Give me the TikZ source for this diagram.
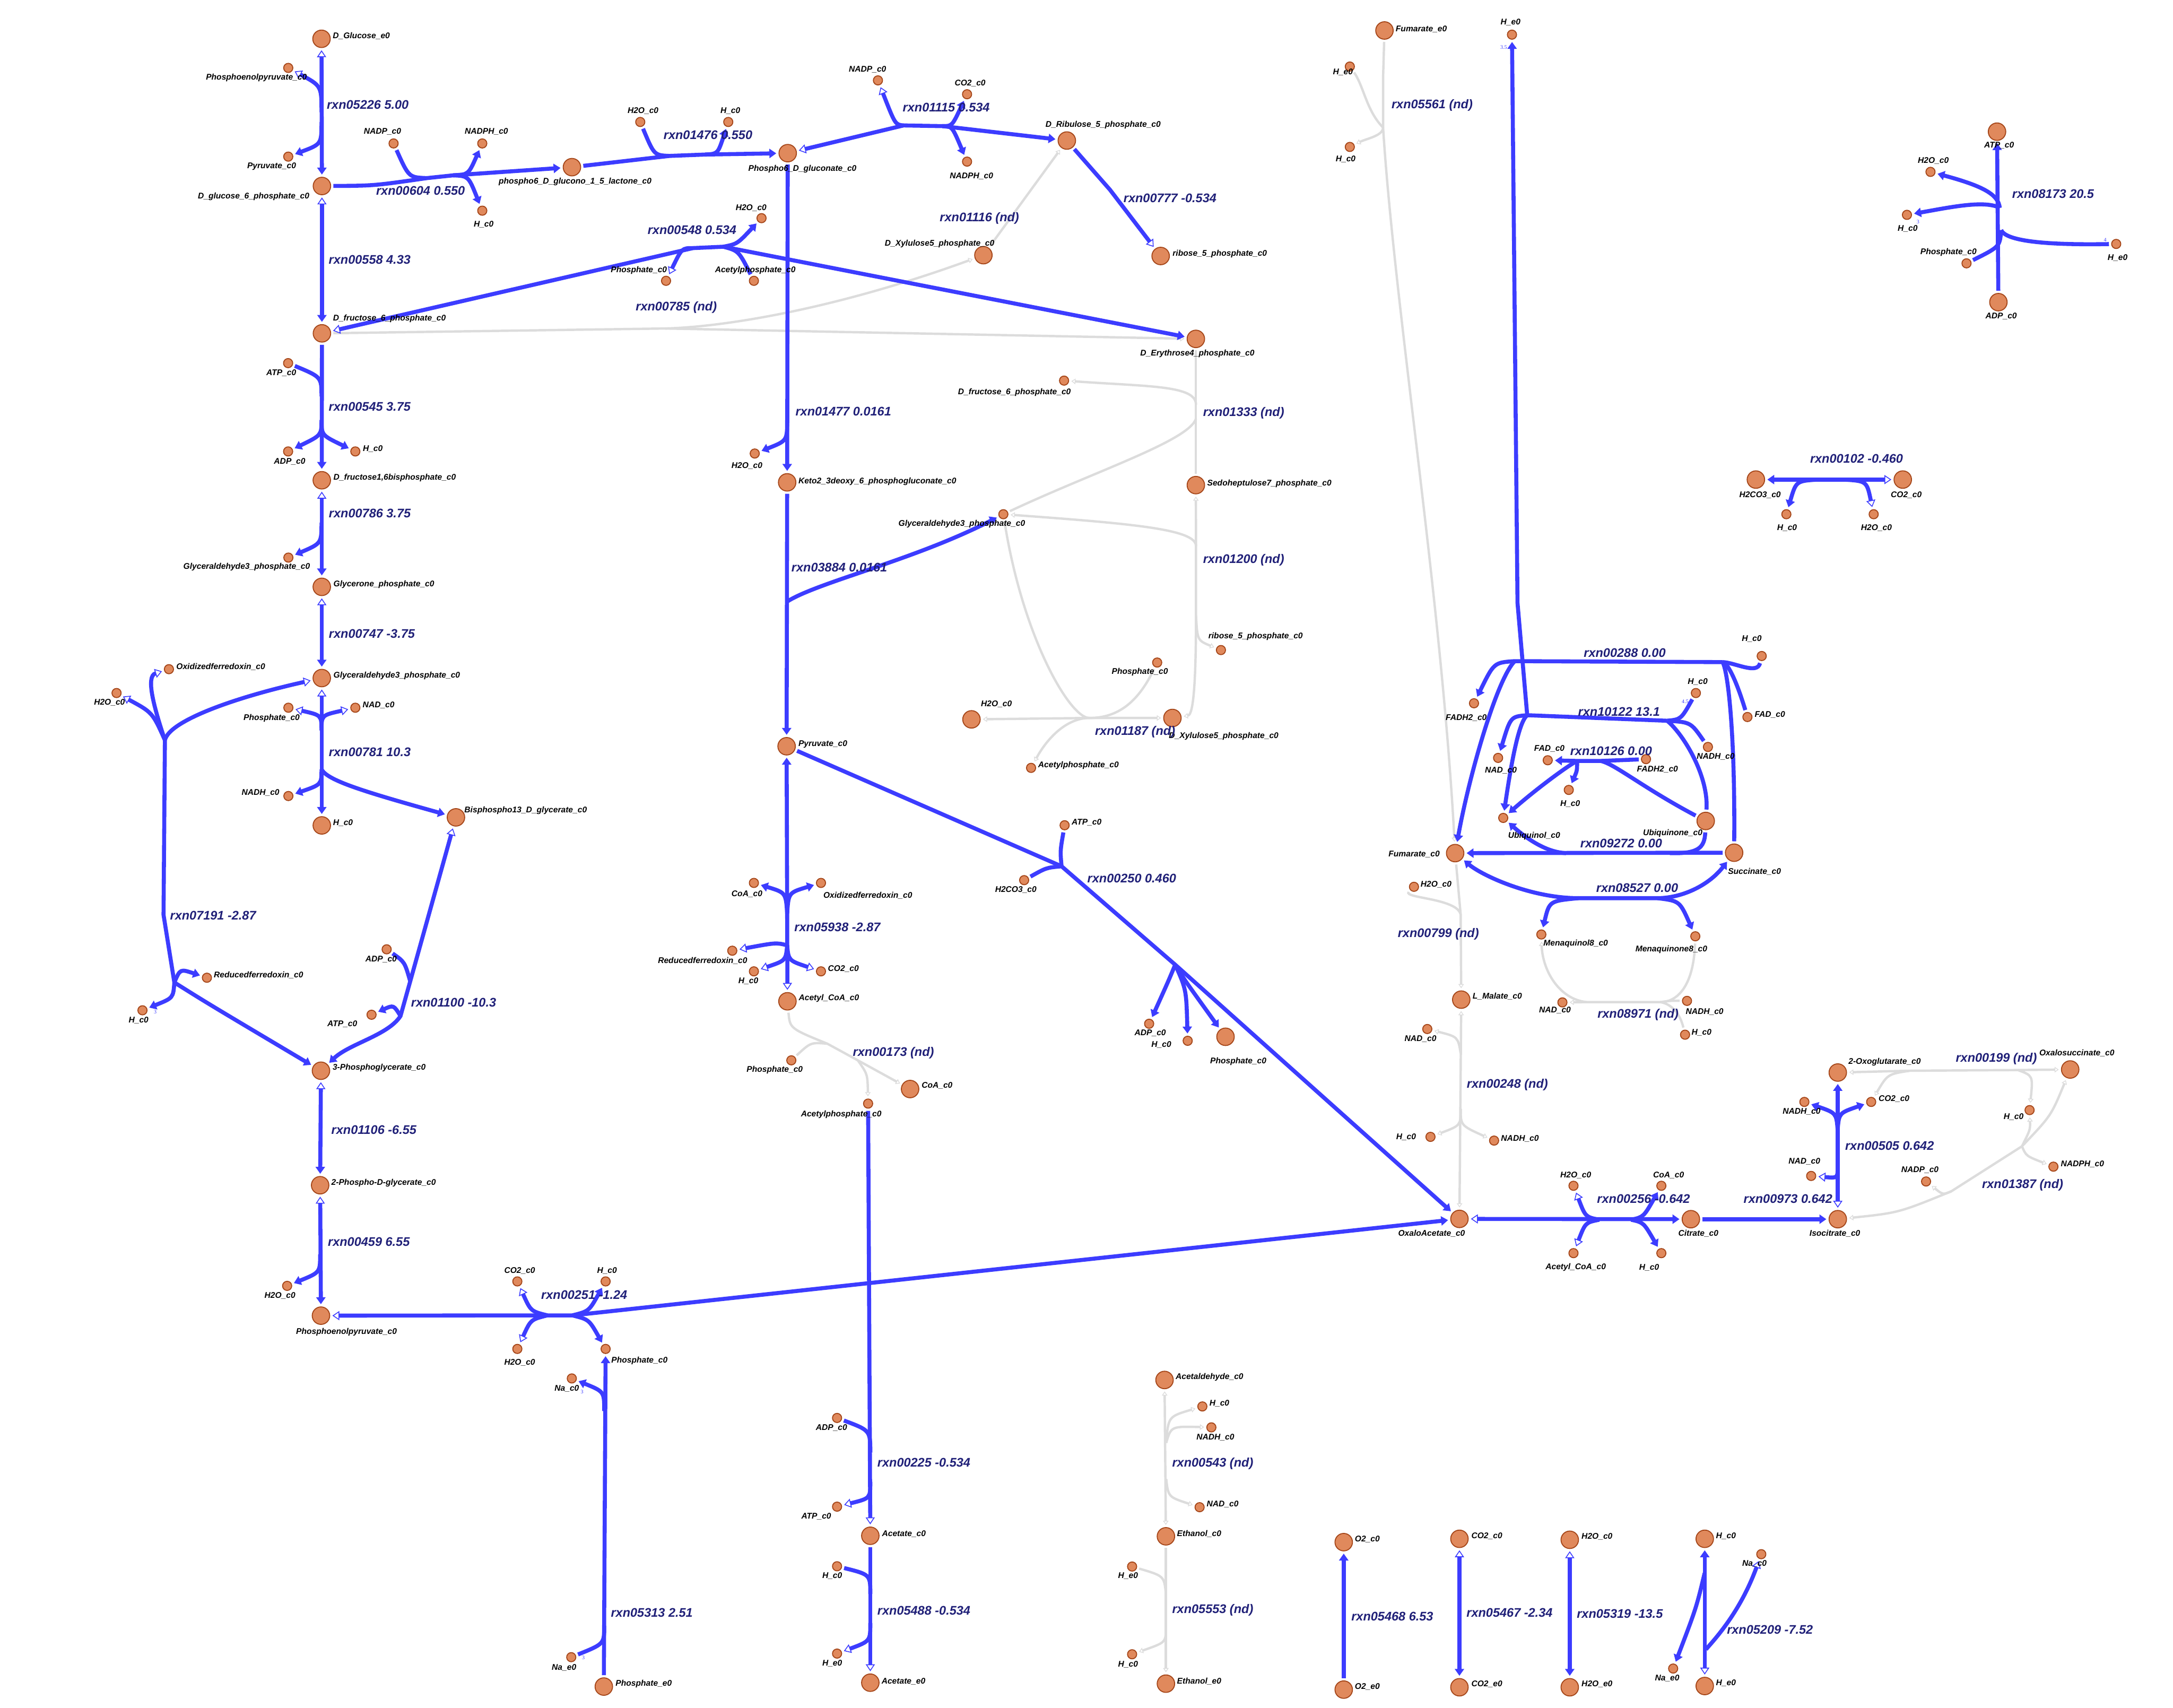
\documentclass[tikz,border=0pt]{standalone}
\usepackage{fontspec}
\setmainfont{Liberation Sans}
\newfontfamily\numfont{Liberation Serif}
\usetikzlibrary{arrows.meta}

\definecolor{fluxblue}{RGB}{60,60,255}
\definecolor{ndgray}{RGB}{220,220,220}
\definecolor{metfill}{RGB}{224,137,92}
\definecolor{metdraw}{RGB}{165,70,25}
\definecolor{rxncol}{RGB}{32,32,120}

\tikzset{
  ftip/.tip={Triangle[width=3.3mm,length=2.5mm]},
  otip/.tip={Triangle[fill=white,line width=0.3mm,width=3.3mm,length=2.5mm]},
  gtip/.tip={Triangle[fill=white,line width=0.25mm,width=2mm,length=1.5mm]},
  flux/.style={draw=fluxblue,line width=1.45mm,shorten <=0.8mm},
  nd/.style={draw=ndgray,line width=0.85mm,shorten <=0.8mm},
  mainln/.style={shorten >=0.8mm},
  bigm/.style={circle,draw=metdraw,fill=metfill,line width=0.35mm,minimum size=6.3mm,inner sep=0pt},
  smallm/.style={bigm,minimum size=3.3mm},
  mlbl/.style={font=\fontsize{8.5}{9}\selectfont\bfseries\itshape,inner sep=0pt},
  rlbl/.style={font=\fontsize{12.8}{13}\selectfont\bfseries\itshape,text=rxncol,inner sep=0pt,anchor=west},
  stoich/.style={font=\numfont\fontsize{5.5}{6}\selectfont,text=fluxblue,inner sep=0pt}
}

% metaboliti: nome/stile/x/y/xetichetta/yetichetta/ancora/testo
\def\metlist{glce/bigm/232/28/240/26/west/D\_Glucose\_e0,
pep1/smallm/208/49/185/56/center/Phosphoenolpyruvate\_c0,
pyr1/smallm/208/113/196/120/center/Pyruvate\_c0,
g6p/bigm/232.3/134.2/183/142/center/D\_glucose\_6\_phosphate\_c0,
nadp1/smallm/284/103.5/276/95/center/NADP\_c0,
nadph1/smallm/348/103.5/351/95/center/NADPH\_c0,
h1/smallm/348/152/349/162/center/H\_c0,
lac/bigm/412.7/120.6/415/131/center/phospho6\_D\_glucono\_1\_5\_lactone\_c0,
h2o1/smallm/462/88/464/80/center/H2O\_c0,
h2/smallm/525.5/88/527/80/center/H\_c0,
pgc/bigm/568.4/110.5/579/122/center/Phospho6\_D\_gluconate\_c0,
nadp2/smallm/633.5/58/626/50/center/NADP\_c0,
co2a/smallm/697.8/68/700/60/center/CO2\_c0,
nadph2/smallm/697.8/116.6/701/127/center/NADPH\_c0,
ru5p/bigm/769.8/101.4/796/90/center/D\_Ribulose\_5\_phosphate\_c0,
r5p/bigm/837.5/184.7/846/183/west/ribose\_5\_phosphate\_c0,
x5p1/bigm/709.6/184.1/678/176/center/D\_Xylulose5\_phosphate\_c0,
h2o2/smallm/549.5/157.4/542/150/center/H2O\_c0,
pi1/smallm/480.6/202.6/461/195/center/Phosphate\_c0,
acp1/smallm/544/202.6/545/195/center/Acetylphosphate\_c0,
f6p/bigm/232.3/240.5/281/230/center/D\_fructose\_6\_phosphate\_c0,
e4p/bigm/862.9/244.5/864/255/center/D\_Erythrose4\_phosphate\_c0,
atp1/smallm/207.9/262/203/269/center/ATP\_c0,
adp1/smallm/207.9/325.7/209/333/center/ADP\_c0,
h3/smallm/256.4/325.7/269/324/center/H\_c0,
fbp/bigm/232.2/346.5/240.5/344.7/west/{D\_fructose1,6bisphosphate\_c0},
gap1/smallm/208.1/402.3/178/409/center/Glyceraldehyde3\_phosphate\_c0,
dhap/bigm/232.2/423.4/240.5/421.6/west/Glycerone\_phosphate\_c0,
gap/bigm/232.2/489.2/240.5/487.4/west/Glyceraldehyde3\_phosphate\_c0,
pi2/smallm/208.1/510.6/196/518/center/Phosphate\_c0,
nad1/smallm/256.4/510.6/261.6/508.7/west/NAD\_c0,
nadh1/smallm/208.1/574.3/188/572/center/NADH\_c0,
h4/bigm/232.2/595.5/240.2/593.6/west/H\_c0,
bpg/bigm/329/589.7/335/584.9/west/Bisphospho13\_D\_glycerate\_c0,
oxfd1/smallm/121.9/482.8/127.1/481.2/west/Oxidizedferredoxin\_c0,
h2o3/smallm/84.1/500/79/507/center/H2O\_c0,
h5/smallm/102.8/728.9/100/736/center/H\_c0,
rdfd1/smallm/149.3/705.4/154.2/703.7/west/Reducedferredoxin\_c0,
adp2/smallm/279/684.9/275/692/center/ADP\_c0,
atp2/smallm/268.1/732.1/247/739/center/ATP\_c0,
pg3/bigm/231.6/772.5/239.9/770.4/west/3-Phosphoglycerate\_c0,
pg2/bigm/231/855.1/239/853.6/west/2-Phospho-D-glycerate\_c0,
h2o4/smallm/207.2/927.7/202/935/center/H2O\_c0,
pep/bigm/231.6/949.2/250/961/center/Phosphoenolpyruvate\_c0,
co2b/smallm/373.3/924.5/375/917/center/CO2\_c0,
h6/smallm/437/924.5/438/917/center/H\_c0,
h2o5/smallm/373.3/973.2/375/983/center/H2O\_c0,
pi3/smallm/437/973.2/441/981.7/west/Phosphate\_c0,
na1/smallm/412.6/994.5/409/1002/center/Na\_c0,
nae1/smallm/412.2/1195.6/407/1203/center/Na\_e0,
pie/bigm/435.7/1216.8/444.1/1214.9/west/Phosphate\_e0,
h2o6/smallm/544.6/327.2/539/336/center/H2O\_c0,
kdpg/bigm/568/348/576/347.5/west/Keto2\_3deoxy\_6\_phosphogluconate\_c0,
gap2/smallm/724/371/694/378/center/Glyceraldehyde3\_phosphate\_c0,
pyr/bigm/567.6/538.4/576/536.8/west/Pyruvate\_c0,
coa1/smallm/544/637/539/645/center/CoA\_c0,
oxfd2/smallm/592.4/637/594/646.2/west/Oxidizedferredoxin\_c0,
rdfd2/smallm/528.4/685.9/507/693/center/Reducedferredoxin\_c0,
h7/smallm/544/700.8/540/708/center/H\_c0,
co2c/smallm/592.4/700.8/597.3/699/west/CO2\_c0,
accoa/bigm/568.2/722.4/576.2/720.3/west/Acetyl\_CoA\_c0,
pi4/smallm/571/765/559/772/center/Phosphate\_c0,
coa2/bigm/656.7/785.7/664.9/783.4/west/CoA\_c0,
acp2/smallm/626.4/796.2/607/804/center/Acetylphosphate\_c0,
adp3/smallm/604/1023/600/1030/center/ADP\_c0,
atp3/smallm/604/1087/589/1094/center/ATP\_c0,
ac/bigm/628/1108/636.3/1106.6/west/Acetate\_c0,
h8/smallm/604/1130/600.5/1137/center/H\_c0,
he1/smallm/604/1193/600.5/1200/center/H\_e0,
ace/bigm/628/1214/636/1213/west/Acetate\_e0,
atp4/smallm/768.2/595.4/773.2/593.5/west/ATP\_c0,
h2co3a/smallm/739/635/733/642/center/H2CO3\_c0,
adp4/smallm/829.2/738.6/830/745.3/center/ADP\_c0,
h9/smallm/857/750.9/838/753.8/center/H\_c0,
pi5/bigm/884.3/748/893.5/765.9/center/Phosphate\_c0,
f6p2/smallm/767.8/274.6/732/283/center/D\_fructose\_6\_phosphate\_c0,
s7p/bigm/862.9/350/871/349/west/Sedoheptulose7\_phosphate\_c0,
r5p2/smallm/881/469/906/459/center/ribose\_5\_phosphate\_c0,
pi6/smallm/835/478/822.5/485/center/Phosphate\_c0,
h2o7/bigm/701/519/719/508/center/H2O\_c0,
x5p2/bigm/846/518/883/531/center/D\_Xylulose5\_phosphate\_c0,
acp3/smallm/744/554/749/552/west/Acetylphosphate\_c0,
fume/bigm/999/22/1007/21/west/Fumarate\_e0,
he2/smallm/974/48/969/52/center/H\_e0,
h10/smallm/974/106/971/115/center/H\_c0,
he3/smallm/1091/25/1090/16/center/H\_e0,
atp5/bigm/1441/95/1442.5/105/center/ATP\_c0,
h2o8/smallm/1393/124/1395/116/center/H2O\_c0,
h11/smallm/1376/155/1376.5/165/center/H\_c0,
pi7/smallm/1419/190/1406/182/center/Phosphate\_c0,
he4/smallm/1527/176/1528/186/center/H\_e0,
adp5/bigm/1442/218/1444/228/center/ADP\_c0,
h2co3b/bigm/1267/346/1270/357/center/H2CO3\_c0,
co2d/bigm/1373/346/1375.5/357/center/CO2\_c0,
h12/smallm/1289/371/1289.5/381/center/H\_c0,
h2o9/smallm/1352/371/1354/381/center/H2O\_c0,
h13/smallm/1271.2/473.3/1264/461/center/H\_c0,
fadh2a/smallm/1063.6/507.4/1058/518/center/FADH2\_c0,
fada/smallm/1260.9/517.3/1266/515.5/west/FAD\_c0,
h14/smallm/1223.7/500/1225/492/center/H\_c0,
nad2/smallm/1081/546.8/1083/556/center/NAD\_c0,
nadh2/smallm/1232.4/538.9/1238/546/center/NADH\_c0,
fadb/smallm/1116.8/548.5/1118/540/center/FAD\_c0,
fadh2b/smallm/1187.7/547.7/1196/555/center/FADH2\_c0,
h15/smallm/1132/569.9/1133/580/center/H\_c0,
ubq/smallm/1084.7/590.1/1107/603/center/Ubiquinol\_c0,
ubn/bigm/1230.8/592.3/1207/601/center/Ubiquinone\_c0,
fumc/bigm/1050/615.5/1020.4/616.5/center/Fumarate\_c0,
succ/bigm/1251.3/615.2/1266/629/center/Succinate\_c0,
h2o10/smallm/1020.3/639.8/1025/638/west/H2O\_c0,
mql/smallm/1112.2/674.2/1137/681/center/Menaquinol8\_c0,
mqn/smallm/1223.3/675.5/1206/685/center/Menaquinone8\_c0,
mal/bigm/1054.4/721.2/1062.5/719/west/L\_Malate\_c0,
nad3/smallm/1127.4/723.2/1122/729/center/NAD\_c0,
nadh3/smallm/1217.3/722.1/1230/730/center/NADH\_c0,
h16/smallm/1215.9/746.5/1220.5/745/west/H\_c0,
nad4/smallm/1029.9/742.4/1025/749.5/center/NAD\_c0,
h17/smallm/1032.2/820.2/1014.6/820.2/center/H\_c0,
nadh4/smallm/1078.1/822.9/1083/821.6/west/NADH\_c0,
oaa/bigm/1053.1/879.4/1033/890/center/OxaloAcetate\_c0,
h2o11/smallm/1135.4/855.5/1137/848/center/H2O\_c0,
coa3/smallm/1198.8/855.5/1204/848/center/CoA\_c0,
accoa2/smallm/1135.4/904.1/1137/914.4/center/Acetyl\_CoA\_c0,
h18/smallm/1198.8/904.1/1190/914.4/center/H\_c0,
cit/bigm/1220.1/879.6/1225.5/890/center/Citrate\_c0,
icit/bigm/1326.1/879.6/1324/890/center/Isocitrate\_c0,
nad5/smallm/1306.9/848.4/1302/838/center/NAD\_c0,
nadh5/smallm/1302/795/1300/802/center/NADH\_c0,
co2e/smallm/1350.2/795/1355.4/792.8/west/CO2\_c0,
akg/bigm/1326.1/773.8/1333.7/766.2/west/2-Oxoglutarate\_c0,
osuc/bigm/1493.8/771.6/1498.6/759.8/center/Oxalosuccinate\_c0,
h19/smallm/1464.5/800.9/1453/806/center/H\_c0,
nadp3/smallm/1389.8/852.4/1385.4/844.1/center/NADP\_c0,
nadph3/smallm/1481.7/841.7/1486.9/839.7/west/NADPH\_c0,
acald/bigm/840.3/995.6/848.2/993.7/west/Acetaldehyde\_c0,
h20/smallm/867.6/1014.7/872.6/1012.4/west/H\_c0,
nadh6/smallm/874.1/1029.8/877/1037/center/NADH\_c0,
nad6/smallm/865.6/1087.4/870.6/1085.2/west/NAD\_c0,
etoh/bigm/841.3/1108.4/849.2/1106.7/west/Ethanol\_c0,
he5/smallm/816.9/1130.2/814/1137/center/H\_e0,
h21/smallm/816.9/1193.5/814/1201/center/H\_c0,
etohe/bigm/841.3/1214.7/849.2/1213/west/Ethanol\_e0,
o2c/bigm/969.6/1112.6/977.5/1110.5/west/O2\_c0,
o2e/bigm/969.6/1219/977.5/1216.8/west/O2\_e0,
co2f/bigm/1053.1/1110.2/1061.6/1108.3/west/CO2\_c0,
co2g/bigm/1053.1/1217.3/1061.6/1215/west/CO2\_e0,
h2o12/bigm/1132.7/1110.9/1141.1/1108.8/west/H2O\_c0,
h2oe/bigm/1132.7/1217.3/1141.1/1215/west/H2O\_e0,
h22/bigm/1230.1/1110.2/1238.1/1108.3/west/H\_c0,
he6/bigm/1230.1/1216.4/1238.1/1214.3/west/H\_e0,
na2/smallm/1270.9/1121.3/1266/1128/center/Na\_c0,
nae2/smallm/1207.3/1203.8/1203/1211/center/Na\_e0}

% reazioni: nome/x/y/testo
\def\rxnlist{r05226/235.7/75.7/rxn05226 5.00,
r00604/271.3/137.6/rxn00604 0.550,
r01476/478.7/97.4/rxn01476 0.550,
r01115/651.3/77.4/rxn01115 0.534,
r00777/810.6/143/rxn00777 -0.534,
r01116/678/157.4/rxn01116 (nd),
r00548/467.2/165.8/rxn00548 0.534,
r00785/458.6/222/rxn00785 (nd),
r00558/237.1/187.3/rxn00558 4.33,
r00545/237.1/293.5/rxn00545 3.75,
r00786/237.2/370.4/rxn00786 3.75,
r00747/237.2/457.1/rxn00747 -3.75,
r00781/237.2/542.5/rxn00781 10.3,
r07191/122.6/660.6/rxn07191 -2.87,
r01100/296.5/723.2/rxn01100 -10.3,
r01106/239/815/rxn01106 -6.55,
r00459/236.5/895.8/rxn00459 6.55,
r00251/390.4/934.1/rxn00251 -1.24,
r05313/440.7/1163.4/rxn05313 2.51,
r01477/573.9/296.7/rxn01477 0.0161,
r03884/571/409.5/rxn03884 0.0161,
r05938/573.1/669.1/rxn05938 -2.87,
r00173/615.3/759.7/rxn00173 (nd),
r00225/633/1055/rxn00225 -0.534,
r05488/633/1162/rxn05488 -0.534,
r00250/784.5/633.6/rxn00250 0.460,
r01333/868/298/rxn01333 (nd),
r01200/868/404/rxn01200 (nd),
r01187/790/528/rxn01187 (nd),
r05561/1004/76/rxn05561 (nd),
r08173/1451.8/140/rxn08173 20.5,
r00102/1306/331/rxn00102 -0.460,
r00288/1142.7/471.1/rxn00288 0.00,
r10122/1138.6/513.6/rxn10122 13.1,
r10126/1132.9/541.9/rxn10126 0.00,
r09272/1140.2/608.6/rxn09272 0.00,
r08527/1151.7/640.5/rxn08527 0.00,
r00799/1008.5/674/rxn00799 (nd),
r08971/1152.6/732.2/rxn08971 (nd),
r00248/1058.3/782.5/rxn00248 (nd),
r00256/1152.3/864.9/rxn00256 -0.642,
r00973/1258/864.9/rxn00973 0.642,
r00505/1331.3/826.7/rxn00505 0.642,
r00199/1411.1/763.8/rxn00199 (nd),
r01387/1430.1/855.1/rxn01387 (nd),
r00543/845.7/1055.8/rxn00543 (nd),
r05553/845.7/1161.7/rxn05553 (nd),
r05468/975/1166.1/rxn05468 6.53,
r05467/1058.1/1163.5/rxn05467 -2.34,
r05319/1137.7/1164.3/rxn05319 -13.5,
r05209/1246/1175.6/rxn05209 -7.52}

\begin{document}
\begin{tikzpicture}[x=0.5mm,y=-0.5mm]
  \fill[white] (0,0) rectangle (1568,1232);
  \useasboundingbox (0,0) rectangle (1568,1232);

  % metaboliti
  \foreach \n/\st/\x/\y/\lx/\ly/\an/\tx in \metlist {
    \node[\st] (\n) at (\x,\y) {};
  }

  % punti di giunzione
  \coordinate (m05226) at (232,81);   \coordinate (n05226) at (232,88);
  \coordinate (m00604) at (308,128.5); \coordinate (n00604) at (327,126.5);
  \coordinate (m01476) at (483,112.5); \coordinate (n01476) at (509,111.5);
  \coordinate (m01115) at (652,90.5); \coordinate (n01115) at (680,91);
  \coordinate (m00548) at (500,179);  \coordinate (n00548) at (522,178);
  \coordinate (m00785) at (480,237);
  \coordinate (m00545) at (232,286);  \coordinate (n00545) at (232,303);
  \coordinate (m00786) at (232,377);
  \coordinate (m00781) at (232,527);  \coordinate (n00781) at (232,555);
  \coordinate (m07191) at (119,534);  \coordinate (n07191) at (125.8,708.8);
  \coordinate (m01100) at (289,733);  \coordinate (n01100) at (296,708);
  \coordinate (m00459) at (231,905);
  \coordinate (m00251) at (395,949);  \coordinate (n00251) at (413,949);
  \coordinate (m05313) at (436,1018); \coordinate (n05313) at (436,1173);
  \coordinate (m01477) at (568,303);
  \coordinate (m03884) at (568,434);
  \coordinate (m05938) at (568,659);  \coordinate (n05938) at (568,682);
  \coordinate (m00173) at (597,753);  \coordinate (n00173) at (619,765);
  \coordinate (m00225) at (628,1048); \coordinate (n00225) at (628,1069);
  \coordinate (m05488) at (628,1150); \coordinate (n05488) at (628,1171);
  \coordinate (m00250) at (766,625);  \coordinate (n00250) at (848,696);
  \coordinate (m01333) at (863,292);  \coordinate (n01333) at (863,302);
  \coordinate (m01200) at (863,394);  \coordinate (n01200) at (863,444);
  \coordinate (m01187) at (786,518);
  \coordinate (m05561) at (998,92);   \coordinate (n05561) at (998,56);
  \coordinate (m08173) at (1443,150); \coordinate (n08173) at (1444,166);
  \coordinate (m00102) at (1312,346); \coordinate (n00102) at (1330,346);
  \coordinate (m00288) at (1093,477); \coordinate (n00288) at (1243,477.7);
  \coordinate (m10122) at (1102,516); \coordinate (n10122) at (1203,520);
  \coordinate (m10126) at (1138,549); \coordinate (n10126) at (1155,549);
  \coordinate (m09272) at (1205,615.5); \coordinate (n09272) at (1130,615.5);
  \coordinate (m08527) at (1139,648); \coordinate (n08527) at (1196,648);
  \coordinate (m08971) at (1145,723); \coordinate (n08971) at (1198,723);
  \coordinate (m00799) at (1054,660);
  \coordinate (m00248) at (1054,760); \coordinate (n00248) at (1054,800);
  \coordinate (m00256) at (1154,880); \coordinate (n00256) at (1177,880);
  \coordinate (m00505) at (1326,842); \coordinate (n00505) at (1326,815);
  \coordinate (m00199) at (1378,772.5); \coordinate (n00199) at (1456,772);
  \coordinate (m01387) at (1408,859.5); \coordinate (n01387) at (1459,827);
  \coordinate (m00543) at (841.5,1041); \coordinate (n00543) at (841.5,1067);
  \coordinate (m05553) at (841.3,1150); \coordinate (n05553) at (841.3,1176);
  \coordinate (m05209) at (1230,1135); \coordinate (n05209) at (1231,1190);

  % reazioni senza dati (grigio)
  \draw[nd,mainln,-gtip] (f6p) -- (m00785) -- (e4p);
  \draw[nd,gtip-] (x5p1) .. controls (600,224) and (520,236) .. (m00785);
  \draw[nd,mainln,gtip-] (ru5p) -- (x5p1);
  \draw[nd,mainln] (e4p) -- (s7p);
  \draw[nd,gtip-] (f6p2) .. controls (830,279) and (863,278) .. (m01333);
  \draw[nd] (gap2) .. controls (790,340) and (858,318) .. (n01333);
  \draw[nd,mainln,gtip-gtip] (s7p) -- (m01200) -- (n01200) .. controls (863,505) and (860,516) .. (x5p2);
  \draw[nd,gtip-] (gap2) .. controls (820,378) and (863,382) .. (m01200);
  \draw[nd,gtip-] (r5p2) .. controls (864,462) .. (n01200);
  \draw[nd,mainln,gtip-gtip] (h2o7) -- (m01187) -- (x5p2);
  \draw[nd] (pi6) .. controls (822,505) and (808,518) .. (m01187);
  \draw[nd,gtip-] (acp3) .. controls (756,532) and (770,518) .. (m01187);
  \draw[nd] (gap2) .. controls (738,460) and (772,518) .. (m01187);
  \draw[nd,mainln,-gtip] (fume) -- (n05561) -- (m05561) .. controls (1006,220) and (1040,430) .. (fumc);
  \draw[nd] (he2) .. controls (984,62) and (986,80) .. (m05561);
  \draw[nd,gtip-] (h10) .. controls (986,100) and (998,98) .. (m05561);
  \draw[nd,mainln,-gtip] (accoa) .. controls (570,742) .. (m00173) -- (n00173) -- (coa2);
  \draw[nd] (pi4) .. controls (585,752) .. (m00173);
  \draw[nd,gtip-] (acp2) .. controls (626,775) .. (n00173);
  \draw[nd,mainln,-gtip] (fumc) -- (m00799) -- (mal);
  \draw[nd] (h2o10) .. controls (1012,648) and (1052,648) .. (m00799);
  \draw[nd,mainln,-gtip] (mqn) .. controls (1222,712) and (1210,723) .. (n08971) -- (m08971) .. controls (1125,721) and (1113,700) .. (mql);
  \draw[nd,gtip-] (nad3) -- (m08971);
  \draw[nd] (nadh3) .. controls (1205,722) .. (n08971);
  \draw[nd] (h16) .. controls (1212,730) and (1205,724) .. (n08971);
  \draw[nd,mainln,gtip-gtip] (mal) -- (oaa);
  \draw[nd,gtip-] (nad4) .. controls (1052,748) .. (m00248);
  \draw[nd,gtip-] (h17) .. controls (1054,812) .. (n00248);
  \draw[nd,gtip-] (nadh4) .. controls (1054,812) .. (n00248);
  \draw[nd,mainln,gtip-gtip] (osuc) -- (n00199) -- (m00199) -- (akg);
  \draw[nd,gtip-] (co2e) .. controls (1362,775) .. (m00199);
  \draw[nd,gtip-] (h19) .. controls (1467,776) .. (n00199);
  \draw[nd,mainln,gtip-gtip] (icit) .. controls (1370,875) .. (m01387) -- (n01387) .. controls (1480,805) .. (osuc);
  \draw[nd,gtip-] (nadp3) .. controls (1402,862) .. (m01387);
  \draw[nd,gtip-] (nadph3) .. controls (1462,834) .. (n01387);
  \draw[nd,gtip-] (h19) .. controls (1465,815) .. (n01387);
  \draw[nd,mainln,gtip-gtip] (etoh) -- (acald);
  \draw[nd,gtip-] (h20) .. controls (843,1022) .. (m00543);
  \draw[nd,gtip-] (nadh6) .. controls (845,1029) .. (m00543);
  \draw[nd,gtip-] (nad6) .. controls (843,1080) .. (n00543);
  \draw[nd,mainln,-gtip] (etoh) -- (etohe);
  \draw[nd] (he5) .. controls (840,1137) .. (m05553);
  \draw[nd,gtip-] (h21) .. controls (841,1185) .. (n05553);

  % glicolisi
  \draw[flux,mainln,otip-ftip] (glce) -- (g6p);
  \draw[flux,otip-] (pep1) .. controls (232,62) .. (m05226);
  \draw[flux,ftip-] (pyr1) .. controls (232,104) .. (n05226);
  \draw[flux,mainln,-ftip] (g6p) .. controls (270,134) .. (m00604) -- (n00604) -- (lac);
  \draw[flux] (nadp1) .. controls (295,128) .. (m00604);
  \draw[flux,ftip-] (nadph1) .. controls (338,126) .. (n00604);
  \draw[flux,ftip-] (h1) .. controls (338,127) .. (n00604);
  \draw[flux,mainln,-ftip] (lac) -- (m01476) -- (n01476) -- (pgc);
  \draw[flux] (h2o1) .. controls (472,112) .. (m01476);
  \draw[flux,ftip-] (h2) .. controls (518,111) .. (n01476);
  \draw[flux,mainln,otip-ftip] (pgc) -- (m01115) -- (n01115) -- (ru5p);
  \draw[flux,otip-] (nadp2) .. controls (646,90) .. (m01115);
  \draw[flux,ftip-] (co2a) .. controls (687,91) .. (n01115);
  \draw[flux,ftip-] (nadph2) .. controls (687,91) .. (n01115);
  \draw[flux,mainln,-otip] (ru5p) -- (801,137) -- (r5p);
  \draw[flux,mainln,otip-ftip] (f6p) -- (m00548) -- (n00548) -- (e4p);
  \draw[flux,otip-] (pi1) .. controls (492,179) .. (m00548);
  \draw[flux] (acp1) .. controls (533,181) .. (n00548);
  \draw[flux,ftip-] (h2o2) .. controls (532,176) .. (n00548);
  \draw[flux,mainln,otip-ftip] (g6p) -- (f6p);
  \draw[flux,mainln,-ftip] (f6p) -- (fbp);
  \draw[flux] (atp1) .. controls (232,272) .. (m00545);
  \draw[flux,ftip-] (adp1) .. controls (232,314) .. (n00545);
  \draw[flux,ftip-] (h3) .. controls (232,314) .. (n00545);
  \draw[flux,mainln,otip-ftip] (fbp) -- (dhap);
  \draw[flux,ftip-] (gap1) .. controls (232,392) .. (m00786);
  \draw[flux,mainln,otip-ftip] (dhap) -- (gap);
  \draw[flux,mainln,otip-ftip] (gap) -- (h4);
  \draw[flux,otip-] (pi2) .. controls (232,516) .. (m00781);
  \draw[flux,otip-] (nad1) .. controls (232,516) .. (m00781);
  \draw[flux,ftip-] (nadh1) .. controls (232,566) .. (n00781);
  \draw[flux,ftip-] (bpg) .. controls (262,571) and (236,563) .. (n00781);
  \draw[flux,mainln,otip-ftip] (gap) .. controls (170,503) and (122,520) .. (m07191) -- (118,660) -- (n07191) .. controls (150,724) .. (pg3);
  \draw[flux,otip-] (h2o3) .. controls (110,514) .. (m07191);
  \draw[flux,otip-] (oxfd1) .. controls (105,488) and (111,510) .. (m07191);
  \draw[flux,ftip-] (h5) .. controls (125,720) .. (n07191);
  \draw[flux,ftip-] (rdfd1) .. controls (130,699) .. (n07191);
  \draw[flux,mainln,otip-ftip] (bpg) -- (n01100) -- (m01100) .. controls (280,747) and (252,753) .. (pg3);
  \draw[flux] (adp2) .. controls (292,694) .. (n01100);
  \draw[flux,ftip-] (atp2) .. controls (284,725) .. (m01100);
  \draw[flux,mainln,otip-ftip] (pg3) -- (pg2);
  \draw[flux,mainln,otip-ftip] (pg2) -- (pep);
  \draw[flux,ftip-] (h2o4) .. controls (231,918) .. (m00459);
  \draw[flux,mainln,otip-ftip] (pep) -- (m00251) -- (n00251) -- (oaa);
  \draw[flux,otip-] (co2b) .. controls (383,946) .. (m00251);
  \draw[flux,otip-] (h2o5) .. controls (383,952) .. (m00251);
  \draw[flux,ftip-] (h6) .. controls (425,946) .. (n00251);
  \draw[flux,ftip-] (pi3) .. controls (425,952) .. (n00251);
  \draw[flux,mainln,-ftip] (pie) -- (pi3);
  \draw[flux,ftip-] (na1) .. controls (436,1004) .. (m05313);
  \draw[flux] (nae1) .. controls (436,1186) .. (n05313);

  % colonna centrale
  \draw[flux,mainln,-ftip] (pgc) -- (kdpg);
  \draw[flux,ftip-] (h2o6) .. controls (568,318) .. (m01477);
  \draw[flux,mainln,-ftip] (kdpg) -- (pyr);
  \draw[flux,ftip-] (gap2) .. controls (660,404) and (590,420) .. (m03884);
  \draw[flux,mainln,ftip-otip] (pyr) -- (accoa);
  \draw[flux,ftip-] (coa1) .. controls (567,644) .. (m05938);
  \draw[flux,ftip-] (oxfd2) .. controls (569,644) .. (m05938);
  \draw[flux,otip-] (rdfd2) .. controls (560,680) .. (n05938);
  \draw[flux,otip-] (h7) .. controls (567,693) .. (n05938);
  \draw[flux,otip-] (co2c) .. controls (569,693) .. (n05938);
  \draw[flux,mainln,-otip] (acp2) -- (ac);
  \draw[flux] (adp3) .. controls (628,1032) .. (m00225);
  \draw[flux,otip-] (atp3) .. controls (628,1081) .. (n00225);
  \draw[flux,mainln,-otip] (ac) -- (ace);
  \draw[flux] (h8) .. controls (628,1136) .. (m05488);
  \draw[flux,otip-] (he1) .. controls (628,1184) .. (n05488);
  \draw[flux,mainln,-ftip] (pyr) -- (m00250) -- (n00250) -- (oaa);
  \draw[flux] (atp4) .. controls (765,614) .. (m00250);
  \draw[flux] (h2co3a) .. controls (755,626) .. (m00250);
  \draw[flux,ftip-] (adp4) .. controls (843,708) .. (n00250);
  \draw[flux,ftip-] (h9) .. controls (856,714) .. (n00250);
  \draw[flux,ftip-] (pi5) .. controls (854,706) .. (n00250);

  % destra in alto
  \draw[flux,ftip-] (he3) -- (1095,435) -- (m10122);
  \draw[flux,mainln,-ftip] (adp5) -- (atp5);
  \draw[flux,ftip-] (h2o8) .. controls (1430,134) and (1442,140) .. (m08173);
  \draw[flux,ftip-] (h11) .. controls (1405,150) and (1432,144) .. (m08173);
  \draw[flux] (he4) .. controls (1470,177) and (1447,173) .. (n08173);
  \draw[flux] (pi7) .. controls (1443,178) .. (n08173);
  \draw[flux,mainln,ftip-otip] (h2co3b) -- (co2d);
  \draw[flux,ftip-] (h12) .. controls (1296,347) .. (m00102);
  \draw[flux,otip-] (h2o9) .. controls (1347,347) .. (n00102);

  % catena respiratoria
  \draw[flux,shorten <=0pt] (m00288) -- (n00288);
  \draw[flux,ftip-] (fadh2a) .. controls (1078,478) .. (m00288);
  \draw[flux,ftip-] (fumc) .. controls (1060,560) and (1080,490) .. (m00288);
  \draw[flux] (h13) .. controls (1268,487) and (1252,478) .. (n00288);
  \draw[flux] (fada) .. controls (1252,488) and (1246,478) .. (n00288);
  \draw[flux] (succ) .. controls (1252,530) and (1247,485) .. (n00288);
  \draw[flux,shorten <=0pt] (m10122) -- (n10122);
  \draw[flux,ftip-] (nad2) .. controls (1090,517) .. (m10122);
  \draw[flux,ftip-] (ubq) .. controls (1092,540) and (1097,520) .. (m10122);
  \draw[flux] (h14) .. controls (1213,519) .. (n10122);
  \draw[flux] (nadh2) .. controls (1220,521) .. (n10122);
  \draw[flux] (ubn) .. controls (1233,560) and (1215,530) .. (n10122);
  \draw[flux,mainln,-ftip] (fadh2b) -- (n10126) -- (m10126) -- (fadb);
  \draw[flux,ftip-] (h15) .. controls (1138,556) .. (m10126);
  \draw[flux,ftip-] (ubq) .. controls (1110,568) and (1132,552) .. (m10126);
  \draw[flux] (ubn) .. controls (1185,568) and (1165,551) .. (n10126);
  \draw[flux,mainln,-ftip] (succ) -- (fumc);
  \draw[flux] (ubn) .. controls (1230,612) and (1225,616) .. (m09272);
  \draw[flux,ftip-] (ubq) .. controls (1105,608) and (1118,615) .. (n09272);
  \draw[flux,mainln,ftip-ftip] (succ) .. controls (1232,640) and (1212,648) .. (n08527) -- (m08527) .. controls (1105,648) and (1070,632) .. (fumc);
  \draw[flux,ftip-] (mql) .. controls (1118,650) .. (m08527);
  \draw[flux,ftip-] (mqn) .. controls (1212,650) .. (n08527);

  % ciclo di Krebs
  \draw[flux,mainln,otip-ftip] (oaa) -- (cit);
  \draw[flux,otip-] (h2o11) .. controls (1144,878) .. (m00256);
  \draw[flux,ftip-] (coa3) .. controls (1186,878) .. (n00256);
  \draw[flux,otip-] (accoa2) .. controls (1144,882) .. (m00256);
  \draw[flux,ftip-] (h18) .. controls (1186,882) .. (n00256);
  \draw[flux,mainln,-ftip] (cit) -- (icit);
  \draw[flux,mainln,otip-ftip] (icit) -- (akg);
  \draw[flux,otip-] (nad5) .. controls (1326,850) .. (m00505);
  \draw[flux,ftip-] (nadh5) .. controls (1325,803) .. (n00505);
  \draw[flux,ftip-] (co2e) .. controls (1327,803) .. (n00505);

  % trasporti
  \draw[flux,mainln,-ftip] (o2e) -- (o2c);
  \draw[flux,mainln,otip-ftip] (co2f) -- (co2g);
  \draw[flux,mainln,otip-ftip] (h2o12) -- (h2oe);
  \draw[flux,mainln,ftip-otip] (h22) -- (he6);
  \draw[flux,ftip-] (nae2) .. controls (1224,1160) .. (m05209);
  \draw[flux,otip-] (na2) .. controls (1255,1165) and (1235,1185) .. (n05209);

  % coefficienti
  \node[stoich] (s1) at (1085,34) {3.5};
  \node[stoich] (s2) at (1216,506) {4.5};
  \node[stoich] (s3) at (1384,160) {3};
  \node[stoich] (s4) at (1519,173) {4};
  \node[stoich] (s5) at (420,1004) {3};
  \node[stoich] (s6) at (421,1196) {3};
  \node[stoich] (s7) at (112,730) {3};

  % etichette
  \foreach \n/\st/\x/\y/\lx/\ly/\an/\tx in \metlist {
    \node[mlbl,anchor=\an] (\n-l) at (\lx,\ly) {\tx};
  }
  \foreach \n/\x/\y/\tx in \rxnlist {
    \node[rlbl] (\n) at (\x,\y) {\tx};
  }
\end{tikzpicture}
\end{document}
